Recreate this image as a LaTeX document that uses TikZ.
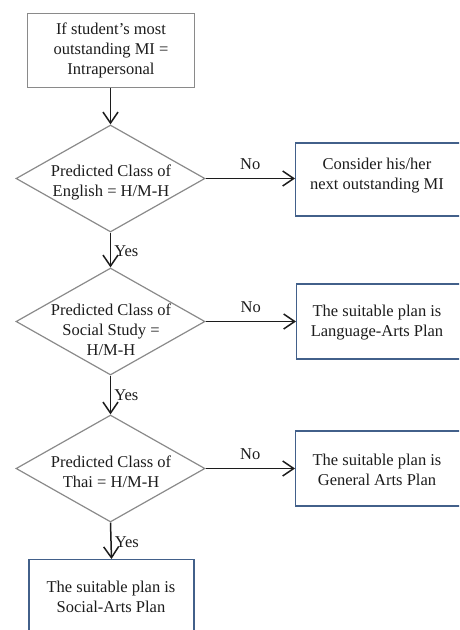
\documentclass[tikz,border=0pt]{standalone}
\usepackage{fontspec}
\setmainfont{Liberation Serif}
\usetikzlibrary{arrows.meta,shapes.geometric}

\definecolor{inkgray}{HTML}{8A8A8A}
\definecolor{boxblue}{HTML}{42608A}
\definecolor{txt}{HTML}{1C1C1C}

\tikzset{
  graybox/.style={draw=inkgray, line width=1pt, rectangle, inner sep=0pt},
  bluebox/.style={draw=boxblue, line width=1.2pt, rectangle, inner sep=0pt},
  decision/.style={draw=inkgray, line width=1.2pt, diamond, inner sep=0pt},
  label/.style={text=txt, align=center, inner sep=0pt,
    font=\fontsize{16.5pt}{20pt}\selectfont},
  edge/.style={draw=txt, line width=1.5pt,
    -{Straight Barb[length=11pt,width=15pt,line width=1.5pt]}},
  tag/.style={text=txt, inner sep=0pt, font=\fontsize{16.5pt}{20pt}\selectfont},
}

\begin{document}
\begin{tikzpicture}[x=1pt,y=-1pt]
\useasboundingbox (0,0) rectangle (459,630);
\clip (0,0) rectangle (459,630);

% start box
\node[graybox, minimum width=167pt, minimum height=74pt] (start) at (110.5,50) {};
\node[label] at (111,50) {If student’s most\\outstanding MI =\\Intrapersonal};

% decisions
\node[decision, minimum width=189pt, minimum height=107pt] (d1) at (110.5,178.5) {};
\node[label] at (111,182) {Predicted Class of\\English = H/M-H};

\node[decision, minimum width=189pt, minimum height=107pt] (d2) at (110.5,321.5) {};
\node[label] at (111,330) {Predicted Class of\\Social Study =\\H/M-H};

\node[decision, minimum width=189pt, minimum height=107pt] (d3) at (110.5,468.5) {};
\node[label] at (111,472) {Predicted Class of\\Thai = H/M-H};

% outcome boxes
\node[bluebox, minimum width=166pt, minimum height=73pt, anchor=west] (o1) at (295,179.5) {};
\node[label] at (377,176) {Consider his/her\\next outstanding MI};

\node[bluebox, minimum width=166pt, minimum height=75pt, anchor=west] (o2) at (296,321.5) {};
\node[label] at (377,322.5) {The suitable plan is\\Language-Arts Plan};

\node[bluebox, minimum width=166pt, minimum height=75pt, anchor=west] (o3) at (295,468.5) {};
\node[label] at (377,469.5) {The suitable plan is\\General Arts Plan};

\node[bluebox, minimum width=165pt, minimum height=78pt, anchor=north] (o4) at (111.5,559) {};
\node[label] at (111,597) {The suitable plan is\\Social-Arts Plan};

% connectors
\draw[edge] (start.south) -- (d1.north);
\draw[edge] (d1.south) -- node[tag, anchor=west, xshift=3pt, yshift=-1pt] {Yes} (d2.north);
\draw[edge] (d2.south) -- node[tag, anchor=west, xshift=3pt, yshift=0pt] {Yes} (d3.north);
\draw[edge] (d3.south) -- node[tag, anchor=west, xshift=3pt, yshift=-1pt] {Yes} (o4.north);

\draw[edge] (d1.east) -- node[tag, above=8pt] {No} (o1.west |- d1.east);
\draw[edge] (d2.east) -- node[tag, above=8pt] {No} (o2.west |- d2.east);
\draw[edge] (d3.east) -- node[tag, above=8pt] {No} (o3.west |- d3.east);
\end{tikzpicture}
\end{document}
